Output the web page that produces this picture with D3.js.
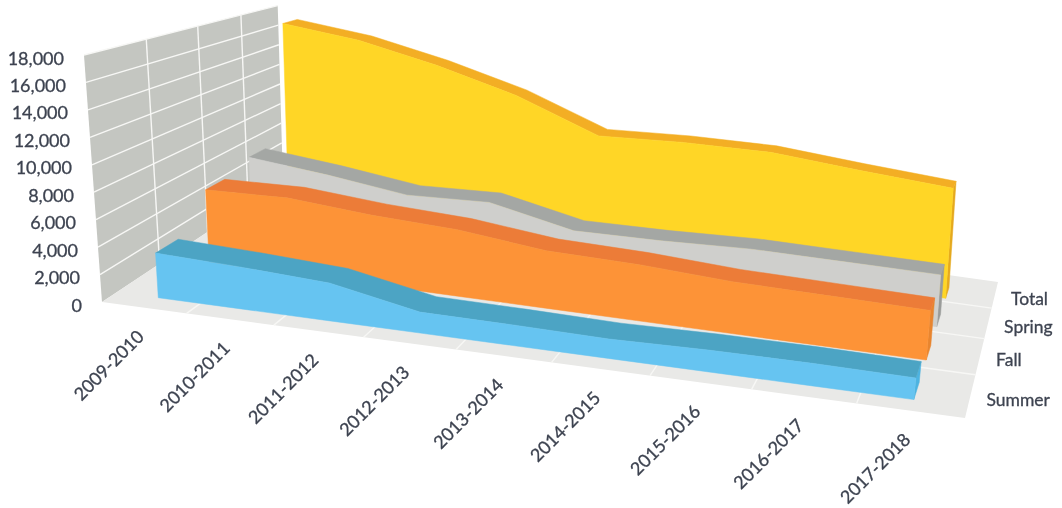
<!DOCTYPE html>
<html>
<head>
<meta charset="utf-8">
<script src="https://cdn.jsdelivr.net/npm/d3@7"></script>
<style>
html,body{margin:0;padding:0;background:#fff;}
svg{display:block;filter:blur(0.35px);}
text{font-family:Lato,"Open Sans",sans-serif;fill:#3d4350;stroke:#3d4350;stroke-width:0.3px;}
</style>
</head>
<body>
<svg id="chart" width="1062" height="508"></svg>
<script>
const categories = ["2009-2010","2010-2011","2011-2012","2012-2013","2013-2014","2014-2015","2015-2016","2016-2017","2017-2018"];
const seriesNames = ["Summer","Fall","Spring","Total"];
const summer = [3310,3070,2735,1490,1440,1335,1470,1495,1420];
const fall   = [5880,6040,5490,5180,4420,4255,3860,3730,3600];
const spring = [6630,5940,5060,5330,3850,3960,4235,4180,4130];
const total  = [17460,16645,15110,13150,10360,10690,10740,10090,9530];
const yTicks = [0,2000,4000,6000,8000,10000,12000,14000,16000,18000];
const faceColors = ["#66C4F1","#FD9337","#CFCFCC","#FFD626"];
const bandColors = ["#4CA4C4","#EC7C38","#A4A7A4","#F3AE24"];
const sideColors = ["#4DB3E0","#E8852F","#9A9C9A","#E5A91E"];

const values = [summer,fall,spring,total];

// Projection of the 3D box onto the page
const FL=[102,302],FR=[965,418],BR=[998,282],BL=[283,182];
const wU=0.87,wD=1.4,frontH=247;
const leanFL=-0.073,leanBL=-0.03,leanFR=0.11,leanBR=0.07;
const warp=(a,w)=>w*a/(1+(w-1)*a);
const mix=(a,b,t)=>a+(b-a)*t;
function project(u,d,v){
  const t=warp(u,wU),s=warp(d,wD);
  const fx=mix(FL[0],FR[0],t),fy=mix(FL[1],FR[1],t);
  const bx=mix(BL[0],BR[0],t),by=mix(BL[1],BR[1],t);
  const h=frontH/(1+(wU-1)*u+(wD-1)*d)*v;
  const lean=mix(mix(leanFL,leanFR,t),mix(leanBL,leanBR,t),s);
  return [mix(fx,bx,s)+lean*h,mix(fy,by,s)-h];
}

const uScale=d3.scalePoint().domain(categories).range([0,1]).padding(0.5);
const dScale=d3.scalePoint().domain(seriesNames).range([0.06,0.78]);
const vScale=d3.scaleLinear().domain([0,18000]).range([0,1]);
const ribbon=0.1;
const fmt=d3.format(",");
const line=d3.line().x(p=>p[0]).y(p=>p[1]);
const closed=pts=>line(pts)+"Z";

const svg=d3.select("#chart");

// Wall
const wallG=svg.append("g");
wallG.append("path").attr("fill","#C4C6C1")
  .attr("d",closed([project(0,0,0),project(0,1,0),project(0,1,1),project(0,0,1)]));
// Floor
const floorG=svg.append("g");
floorG.append("path").attr("fill","#E9E9E7")
  .attr("d",closed([project(0,0,0),project(1,0,0),project(1,1,0),project(0,1,0)]));

const gridStyle=sel=>sel.attr("fill","none").attr("stroke","#F7F7F5").attr("stroke-width",1.4);
wallG.selectAll(".h").data(yTicks.slice(1)).join("path").attr("class","h").call(gridStyle)
  .attr("d",v=>line([project(0,0,vScale(v)),project(0,1,vScale(v))]));
wallG.selectAll(".v").data([.25,.5,.75]).join("path").attr("class","v").call(gridStyle)
  .attr("d",d=>line([project(0,d,0),project(0,d,1)]));
floorG.selectAll(".r").data([.25,.5,.75]).join("path").attr("class","r").call(gridStyle)
  .attr("d",d=>line([project(0,d,0),project(1,d,0)]));
floorG.selectAll(".c").data(d3.range(1,9).map(k=>k/9)).join("path").attr("class","c").call(gridStyle)
  .attr("d",u=>line([project(u,0,0),project(u,1,0)]));

// Ribbons, back to front
const order=[3,2,1,0];
order.forEach(k=>{
  const name=seriesNames[k],vals=values[k];
  const d0=dScale(name),d1=d0+ribbon;
  const us=categories.map(c=>uScale(c));
  const frontTop=vals.map((v,i)=>project(us[i],d0,vScale(v)));
  const backTop=vals.map((v,i)=>project(us[i],d1,vScale(v)));
  const frontBase=vals.map((v,i)=>project(us[i],d0,0));
  const g=svg.append("g").attr("class","series-"+name);
  const last=vals.length-1;
  // right end
  g.append("path").attr("fill",sideColors[k]).attr("stroke",sideColors[k]).attr("stroke-width",.5)
    .attr("d",closed([frontBase[last],project(us[last],d1,0),backTop[last],frontTop[last]]));
  // top
  g.append("path").attr("fill",bandColors[k]).attr("stroke",bandColors[k]).attr("stroke-width",.5)
    .attr("d",closed(frontTop.concat(backTop.slice().reverse())));
  // front
  g.append("path").attr("fill",faceColors[k]).attr("stroke",faceColors[k]).attr("stroke-width",.5)
    .attr("d",closed(frontTop.concat(frontBase.slice().reverse())));
});

// Axis labels
svg.append("g").selectAll("text").data(yTicks).join("text")
  .attr("text-anchor","end").attr("dominant-baseline","middle").attr("font-size",18)
  .attr("x",v=>project(0,0,vScale(v))[0]-20)
  .attr("y",v=>project(0,0,vScale(v))[1]+5)
  .text(fmt);
svg.append("g").selectAll("text").data(categories).join("text")
  .attr("text-anchor","end").attr("dominant-baseline","middle").attr("font-size",18)
  .attr("transform",c=>{const p=project(uScale(c),0,0);return `translate(${p[0]-2},${p[1]+27}) rotate(-45)`;})
  .text(c=>c);
const rowScale=d3.scalePoint().domain(seriesNames).range([0,1]).padding(0.5);
svg.append("g").selectAll("text").data(seriesNames).join("text")
  .attr("text-anchor","start").attr("dominant-baseline","middle").attr("font-size",17.5)
  .attr("x",n=>project(1,rowScale(n),0)[0]+16)
  .attr("y",n=>project(1,rowScale(n),0)[1]+6)
  .text(n=>n);
</script>
</body>
</html>
